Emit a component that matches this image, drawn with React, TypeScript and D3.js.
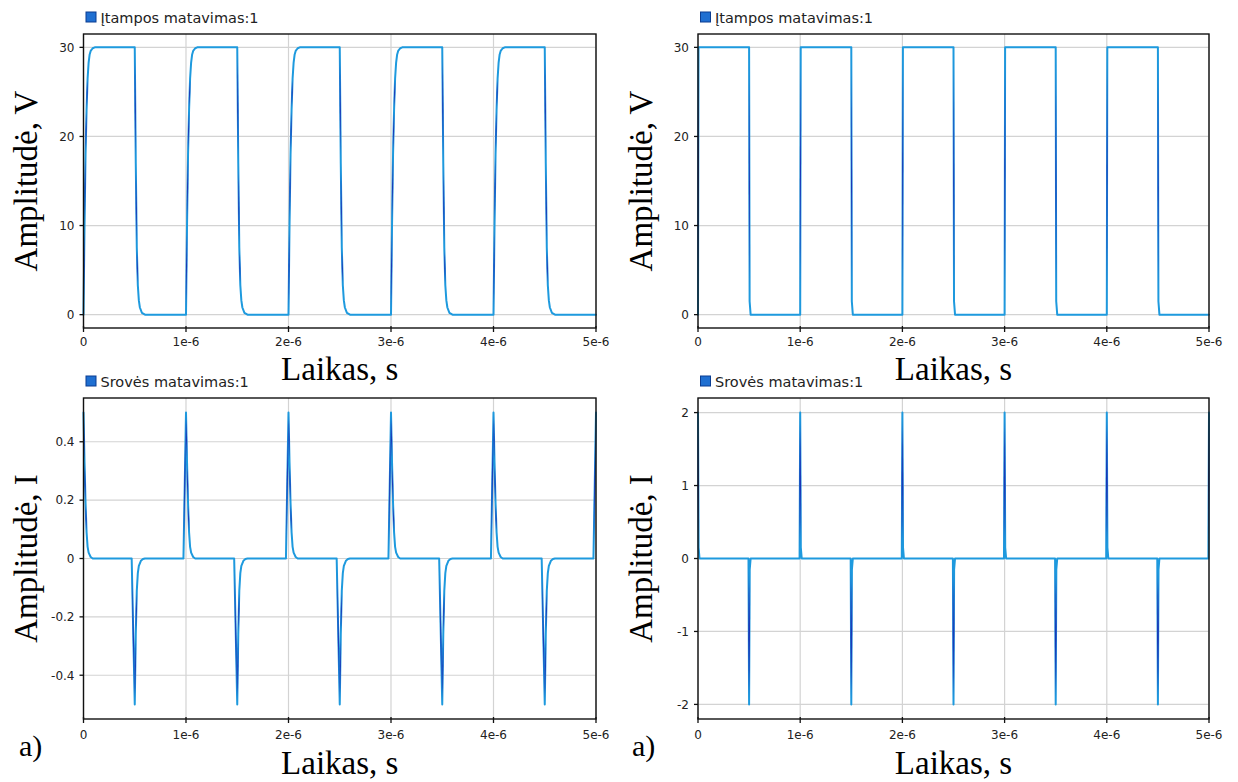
import React from 'react';
import * as d3 from 'd3';

// ---- axis ticks ----
const X_TICKS = [0, 1e-6, 2e-6, 3e-6, 4e-6, 5e-6];
const X_TICK_LABELS = ['0', '1e-6', '2e-6', '3e-6', '4e-6', '5e-6'];
const V_TICKS = [0, 10, 20, 30];
const V_TICK_LABELS = ['0', '10', '20', '30'];
const IA_TICKS = [-0.4, -0.2, 0, 0.2, 0.4];
const IA_TICK_LABELS = ['-0.4', '-0.2', '0', '0.2', '0.4'];
const IB_TICKS = [-2, -1, 0, 1, 2];
const IB_TICK_LABELS = ['-2', '-1', '0', '1', '2'];

// ---- series: [time in microseconds, value] ----
const voltageA: [number, number][] = [
  [0, 0], [0.01, 10], [0.02, 18], [0.03, 23], [0.04, 26.5], [0.05, 28.3], [0.06, 29.2], [0.07, 29.6], [0.09, 29.9], [0.11, 30],
  [0.5, 30], [0.51, 17], [0.52, 7.5], [0.53, 3.3], [0.54, 1.6], [0.55, 0.8], [0.57, 0.2], [0.6, 0],
  [1, 0], [1.01, 10], [1.02, 18], [1.03, 23], [1.04, 26.5], [1.05, 28.3], [1.06, 29.2], [1.07, 29.6], [1.09, 29.9], [1.11, 30],
  [1.5, 30], [1.51, 17], [1.52, 7.5], [1.53, 3.3], [1.54, 1.6], [1.55, 0.8], [1.57, 0.2], [1.6, 0],
  [2, 0], [2.01, 10], [2.02, 18], [2.03, 23], [2.04, 26.5], [2.05, 28.3], [2.06, 29.2], [2.07, 29.6], [2.09, 29.9], [2.11, 30],
  [2.5, 30], [2.51, 17], [2.52, 7.5], [2.53, 3.3], [2.54, 1.6], [2.55, 0.8], [2.57, 0.2], [2.6, 0],
  [3, 0], [3.01, 10], [3.02, 18], [3.03, 23], [3.04, 26.5], [3.05, 28.3], [3.06, 29.2], [3.07, 29.6], [3.09, 29.9], [3.11, 30],
  [3.5, 30], [3.51, 17], [3.52, 7.5], [3.53, 3.3], [3.54, 1.6], [3.55, 0.8], [3.57, 0.2], [3.6, 0],
  [4, 0], [4.01, 10], [4.02, 18], [4.03, 23], [4.04, 26.5], [4.05, 28.3], [4.06, 29.2], [4.07, 29.6], [4.09, 29.9], [4.11, 30],
  [4.5, 30], [4.51, 17], [4.52, 7.5], [4.53, 3.3], [4.54, 1.6], [4.55, 0.8], [4.57, 0.2], [4.6, 0],
  [5, 0],
];

const currentA: [number, number][] = [
  [0, 0.5], [0.01, 0.33], [0.02, 0.19], [0.03, 0.09], [0.04, 0.04], [0.05, 0.02], [0.07, 0.005], [0.09, 0],
  [0.47, 0], [0.5, -0.5], [0.51, -0.26], [0.52, -0.11], [0.53, -0.05], [0.54, -0.025], [0.56, -0.008], [0.58, -0.002], [0.6, 0],
  [0.975, 0], [1, 0.5], [1.01, 0.33], [1.02, 0.19], [1.03, 0.09], [1.04, 0.04], [1.05, 0.02], [1.07, 0.005], [1.09, 0],
  [1.47, 0], [1.5, -0.5], [1.51, -0.26], [1.52, -0.11], [1.53, -0.05], [1.54, -0.025], [1.56, -0.008], [1.58, -0.002], [1.6, 0],
  [1.975, 0], [2, 0.5], [2.01, 0.33], [2.02, 0.19], [2.03, 0.09], [2.04, 0.04], [2.05, 0.02], [2.07, 0.005], [2.09, 0],
  [2.47, 0], [2.5, -0.5], [2.51, -0.26], [2.52, -0.11], [2.53, -0.05], [2.54, -0.025], [2.56, -0.008], [2.58, -0.002], [2.6, 0],
  [2.975, 0], [3, 0.5], [3.01, 0.33], [3.02, 0.19], [3.03, 0.09], [3.04, 0.04], [3.05, 0.02], [3.07, 0.005], [3.09, 0],
  [3.47, 0], [3.5, -0.5], [3.51, -0.26], [3.52, -0.11], [3.53, -0.05], [3.54, -0.025], [3.56, -0.008], [3.58, -0.002], [3.6, 0],
  [3.975, 0], [4, 0.5], [4.01, 0.33], [4.02, 0.19], [4.03, 0.09], [4.04, 0.04], [4.05, 0.02], [4.07, 0.005], [4.09, 0],
  [4.47, 0], [4.5, -0.5], [4.51, -0.26], [4.52, -0.11], [4.53, -0.05], [4.54, -0.025], [4.56, -0.008], [4.58, -0.002], [4.6, 0],
  [4.975, 0], [5, 0.5],
];

const voltageB: [number, number][] = [
  [0, 0], [0.005, 30], [0.5, 30], [0.505, 1.5], [0.515, 0],
  [1, 0], [1.005, 30], [1.5, 30], [1.505, 1.5], [1.515, 0],
  [2, 0], [2.005, 30], [2.5, 30], [2.505, 1.5], [2.515, 0],
  [3, 0], [3.005, 30], [3.5, 30], [3.505, 1.5], [3.515, 0],
  [4, 0], [4.005, 30], [4.5, 30], [4.505, 1.5], [4.515, 0],
  [5, 0],
];

const currentB: [number, number][] = [
  [0, 2], [0.006, 0.15], [0.015, 0],
  [0.494, 0], [0.5, -2], [0.506, -0.15], [0.515, 0],
  [0.994, 0], [1, 2], [1.006, 0.15], [1.015, 0],
  [1.494, 0], [1.5, -2], [1.506, -0.15], [1.515, 0],
  [1.994, 0], [2, 2], [2.006, 0.15], [2.015, 0],
  [2.494, 0], [2.5, -2], [2.506, -0.15], [2.515, 0],
  [2.994, 0], [3, 2], [3.006, 0.15], [3.015, 0],
  [3.494, 0], [3.5, -2], [3.506, -0.15], [3.515, 0],
  [3.994, 0], [4, 2], [4.006, 0.15], [4.015, 0],
  [4.494, 0], [4.5, -2], [4.506, -0.15], [4.515, 0],
  [4.994, 0], [5, 2],
];

const LEGEND_V = 'Įtampos matavimas:1';
const LEGEND_I = 'Srovės matavimas:1';
const Y_LABEL_V = 'Amplitudė, V';
const Y_LABEL_I = 'Amplitudė, I';
const X_LABEL = 'Laikas, s';

const LIGHT = '#1e9ade';
const DARK = '#1a2fb5';
const SANS = '"DejaVu Sans", Verdana, sans-serif';
const SERIF = '"Liberation Serif", "Times New Roman", serif';

type PanelProps = {
  id: string;
  x0: number; x1: number; y0: number; y1: number;
  yDomain: [number, number];
  yTicks: number[]; yTickLabels: string[];
  data: [number, number][];
  legend: string;
  legendY: number;
  xLabelOff: number;
};

function Panel(p: PanelProps) {
  const x = d3.scaleLinear().domain([0, 5e-6]).range([p.x0, p.x1]);
  const y = d3.scaleLinear().domain(p.yDomain).range([p.y1, p.y0]);
  const line = d3.line<[number, number]>().x(d => x(d[0] * 1e-6)).y(d => y(d[1]));
  const pts = p.data.map(d => [x(d[0] * 1e-6), y(d[1])] as [number, number]);
  const segs: { a: [number, number]; b: [number, number] }[] = [];
  for (let i = 1; i < pts.length; i++) {
    const a = pts[i - 1], b = pts[i];
    if (Math.abs(b[1] - a[1]) > 25) segs.push({ a, b });
  }
  return (
    <g>
      <defs>
        {segs.map((s, i) => (
          <linearGradient key={i} id={`${p.id}-g${i}`} gradientUnits="userSpaceOnUse"
            x1={s.a[0]} y1={s.a[1]} x2={s.b[0]} y2={s.b[1]}>
            <stop offset="0" stopColor={LIGHT} stopOpacity={0} />
            <stop offset="0.25" stopColor={DARK} stopOpacity={0.5} />
            <stop offset="0.55" stopColor={DARK} stopOpacity={0.95} />
            <stop offset="0.85" stopColor={DARK} stopOpacity={0.3} />
            <stop offset="1" stopColor={LIGHT} stopOpacity={0} />
          </linearGradient>
        ))}
      </defs>
      {/* grid */}
      {X_TICKS.map((t, i) => (
        <line key={'gx' + i} x1={x(t)} x2={x(t)} y1={p.y0} y2={p.y1} stroke="#d3d3d3" strokeWidth={1.2} />
      ))}
      {p.yTicks.map((t, i) => (
        <line key={'gy' + i} x1={p.x0} x2={p.x1} y1={y(t)} y2={y(t)} stroke="#d3d3d3" strokeWidth={1.2} />
      ))}
      {/* series */}
      <path d={line(p.data) || ''} fill="none" stroke={LIGHT} strokeWidth={2} strokeLinejoin="round" strokeLinecap="round" />
      {segs.map((s, i) => (
        <line key={'s' + i} x1={s.a[0]} y1={s.a[1]} x2={s.b[0]} y2={s.b[1]}
          stroke={`url(#${p.id}-g${i})`} strokeWidth={1.1} />
      ))}
      {/* frame */}
      <rect x={p.x0} y={p.y0} width={p.x1 - p.x0} height={p.y1 - p.y0} fill="none" stroke="#111" strokeWidth={1.4} />
      {/* ticks */}
      {X_TICKS.map((t, i) => (
        <g key={'tx' + i}>
          <line x1={x(t)} x2={x(t)} y1={p.y1 - 2} y2={p.y1 + 4} stroke="#111" strokeWidth={1.3} />
          <text x={x(t)} y={p.y1 + p.xLabelOff} textAnchor="middle" fontFamily={SANS} fontSize={12} fill="#222">
            {X_TICK_LABELS[i]}
          </text>
        </g>
      ))}
      {p.yTicks.map((t, i) => (
        <g key={'ty' + i}>
          <line x1={p.x0 - 4} x2={p.x0} y1={y(t)} y2={y(t)} stroke="#111" strokeWidth={1.3} />
          <text x={p.x0 - 9} y={y(t)} dy="0.36em" textAnchor="end" fontFamily={SANS} fontSize={12} fill="#222">
            {p.yTickLabels[i]}
          </text>
        </g>
      ))}
      {/* legend */}
      <rect x={p.x0 + 2.5} y={p.legendY} width={10} height={10} fill="#1f6fd1" stroke="#0b3d91" strokeWidth={1} />
      <text x={p.x0 + 17} y={p.legendY + 10.5} fontFamily={SANS} fontSize={14.5} fill="#222">{p.legend}</text>
    </g>
  );
}

export default function App() {
  const L = { x0: 83.5, x1: 596 };
  const R = { x0: 698, x1: 1209 };
  const T = { y0: 34, y1: 328 };
  const B = { y0: 398, y1: 719 };
  const FS = 33;
  return (
    <svg width={1238} height={782} viewBox="0 0 1238 782"
      style={{ position: 'absolute', left: 0, top: 0, background: '#fff' }}>
      <rect x={0} y={0} width={1238} height={782} fill="#fff" />
      <Panel id="tl" {...L} {...T} yDomain={[-1.5, 31.5]} yTicks={V_TICKS} yTickLabels={V_TICK_LABELS}
        data={voltageA} legend={LEGEND_V} legendY={12} xLabelOff={18} />
      <Panel id="tr" {...R} {...T} yDomain={[-1.5, 31.5]} yTicks={V_TICKS} yTickLabels={V_TICK_LABELS}
        data={voltageB} legend={LEGEND_V} legendY={12} xLabelOff={18} />
      <Panel id="bl" {...L} {...B} yDomain={[-0.55, 0.55]} yTicks={IA_TICKS} yTickLabels={IA_TICK_LABELS}
        data={currentA} legend={LEGEND_I} legendY={376} xLabelOff={20} />
      <Panel id="br" {...R} {...B} yDomain={[-2.2, 2.2]} yTicks={IB_TICKS} yTickLabels={IB_TICK_LABELS}
        data={currentB} legend={LEGEND_I} legendY={376} xLabelOff={20} />

      {/* axis titles */}
      <text transform={`translate(37,${(T.y0 + T.y1) / 2}) rotate(-90)`} textAnchor="middle" fontFamily={SERIF} fontSize={FS} fill="#000">{Y_LABEL_V}</text>
      <text transform={`translate(652,${(T.y0 + T.y1) / 2}) rotate(-90)`} textAnchor="middle" fontFamily={SERIF} fontSize={FS} fill="#000">{Y_LABEL_V}</text>
      <text transform={`translate(37,${(B.y0 + B.y1) / 2}) rotate(-90)`} textAnchor="middle" fontFamily={SERIF} fontSize={FS} fill="#000">{Y_LABEL_I}</text>
      <text transform={`translate(652,${(B.y0 + B.y1) / 2}) rotate(-90)`} textAnchor="middle" fontFamily={SERIF} fontSize={FS} fill="#000">{Y_LABEL_I}</text>

      <text x={(L.x0 + L.x1) / 2} y={380} textAnchor="middle" fontFamily={SERIF} fontSize={FS} fill="#000">{X_LABEL}</text>
      <text x={(R.x0 + R.x1) / 2} y={380} textAnchor="middle" fontFamily={SERIF} fontSize={FS} fill="#000">{X_LABEL}</text>
      <text x={(L.x0 + L.x1) / 2} y={774} textAnchor="middle" fontFamily={SERIF} fontSize={FS} fill="#000">{X_LABEL}</text>
      <text x={(R.x0 + R.x1) / 2} y={774} textAnchor="middle" fontFamily={SERIF} fontSize={FS} fill="#000">{X_LABEL}</text>

      <text x={19} y={756} fontFamily={SERIF} fontSize={30} fill="#000">a)</text>
      <text x={632} y={756} fontFamily={SERIF} fontSize={30} fill="#000">a)</text>
    </svg>
  );
}
